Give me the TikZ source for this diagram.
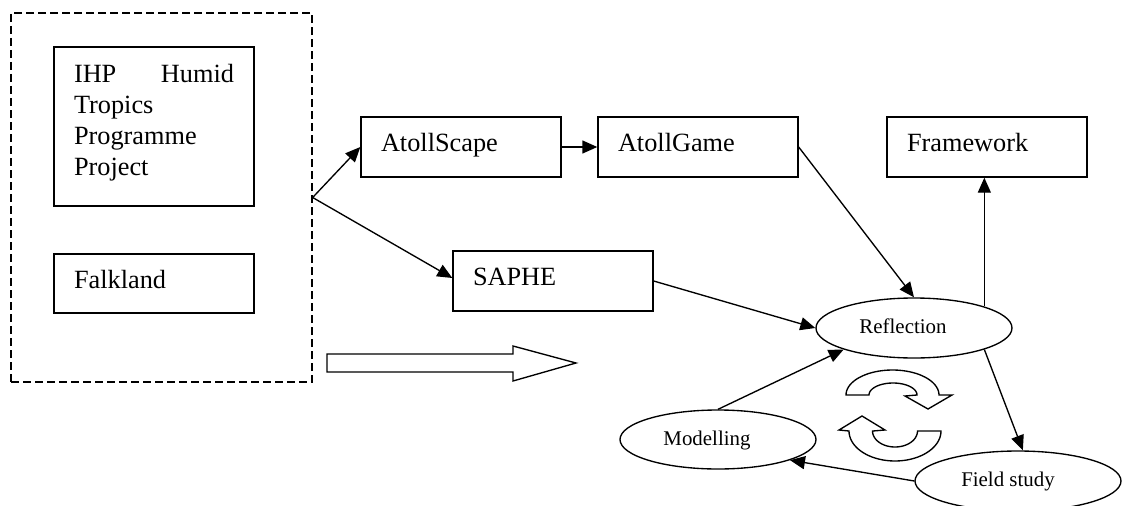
\documentclass[tikz,border=0pt]{standalone}
\usepackage{fontspec}
\setmainfont{Liberation Serif}
\usetikzlibrary{arrows.meta,shapes.geometric}
\begin{document}
\begin{tikzpicture}[x=1pt,y=-1pt,
  lw/.style={line width=1.35pt},
  boxnode/.style={draw, lw, minimum width=200pt, minimum height=60pt, text width=160pt, inner xsep=20pt, inner ysep=0pt, align=left, text height=18pt, text depth=9pt, font=\fontsize{26.3}{31}\selectfont},
  ellnode/.style={draw, lw, ellipse, inner sep=0pt, font=\fontsize{20.9}{24}\selectfont, text height=14pt, text depth=3pt},
  arr/.style={lw, -{Triangle[length=15pt,width=13pt]}},
  shapeline/.style={lw, line join=miter}]
\useasboundingbox (0,0) rectangle (1122,506);
% group box
\node[draw, line width=1.3pt, dash pattern=on 8pt off 4pt, minimum width=301pt, minimum height=369pt, inner sep=0pt] (grp) at (161.5,197.5) {};
\node[draw, lw, minimum width=200pt, minimum height=159pt, inner xsep=20pt, inner ysep=17pt, font=\fontsize{26.3}{31}\selectfont] (ihp) at (154,126.5)
  {\parbox[t][125pt][t]{160pt}{\raggedright IHP\hfill Humid\\Tropics\\Programme\\Project}};
\node[boxnode, minimum height=59pt] (falk) at (154,283.5) {Falkland};
% boxes
\node[boxnode] (scape) at (461,147) {AtollScape};
\node[boxnode] (game) at (698,147) {AtollGame};
\node[boxnode] (frame) at (987,147) {Framework};
\node[boxnode] (saphe) at (553,281) {SAPHE};
% ellipses
\node[ellnode, minimum width=196pt, minimum height=60pt] (refl) at (914,328) {Reflection\kern22pt};
\node[ellnode, minimum width=196pt, minimum height=59pt] (model) at (718,439.5) {Modelling\kern22pt};
\node[ellnode, minimum width=206pt, minimum height=60pt] (fs) at (1018,481) {Field study\kern20pt};
% connectors
\draw[arr] (grp.east) -- (scape.west);
\draw[arr] (grp.east) -- ([yshift=3pt]saphe.west);
\draw[arr] (scape.east) -- (game.west);
\draw[arr] (game.east) -- (refl.north);
\draw[arr] (saphe.east) -- (refl.west);
\draw[arr] (refl.17) -- (refl.17 |- frame.south);
\draw[arr] (model.north) -- (refl.197);
\draw[arr] (refl.-17) -- (fs.81);
\draw[arr] (fs.west) -- (model.-16);
% block arrow
\draw[shapeline] (327,354) -- (513,354) -- (513,346) -- (576,363) -- (513,381) -- (513,372) -- (327,372) -- cycle;
% circular arrows
\draw[shapeline] (846,395) -- plot[domain=180:0, samples=40] ({892.5+46.5*cos(\x)},{395-25*sin(\x)})
  -- (952,395) -- (928,409) -- (905,396) -- (917,395)
  -- plot[domain=0:180, samples=30] ({893+24*cos(\x)},{395-12*sin(\x)}) -- cycle;
\draw[shapeline] (941,431) -- plot[domain=0:180, samples=40] ({895+46*cos(\x)},{431+30*sin(\x)})
  -- (839,430) -- (862,416) -- (885,430) -- (873,431)
  -- plot[domain=180:0, samples=30] ({895+22.5*cos(\x)},{431+16*sin(\x)}) -- cycle;
\end{tikzpicture}
\end{document}
